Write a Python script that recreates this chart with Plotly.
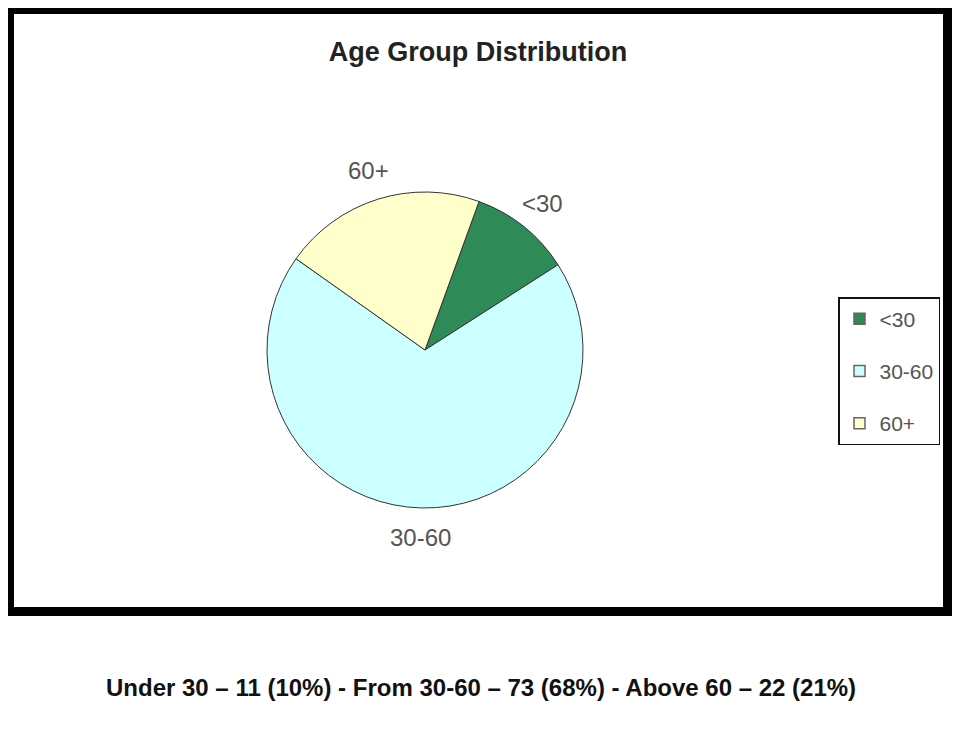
import math
import plotly.graph_objects as go

# The page body has an 8px margin, so the figure is shifted by 8px; compensate.
OFF = 8
W, H = 960 - OFF, 740 - OFF

labels = ["<30", "30-60", "60+"]
counts = [11, 73, 22]
colors = ["#2E8B57", "#CCFFFF", "#FFFFCC"]
title_text = "Age Group Distribution"
caption = "Under 30 – 11 (10%) - From 30-60 – 73 (68%) - Above 60 – 22 (21%)"

ROTATION = 20

def px(x):
    return (x - OFF) / W

def py(y):
    return 1 - (y - OFF) / H

fig = go.Figure()

cx, cy, r = 425, 350, 158
fig.add_trace(go.Pie(
    labels=labels,
    values=counts,
    sort=False,
    direction="clockwise",
    rotation=ROTATION,
    marker=dict(colors=colors, line=dict(color="#333333", width=1)),
    textinfo="none",
    domain=dict(x=[px(cx - r), px(cx + r)], y=[py(cy + r), py(cy - r)]),
    showlegend=False,
    hoverinfo="label+value+percent",
))

# slice labels placed along each slice's mid-angle, computed from the data
total = sum(counts)
annotations = []
start = ROTATION
label_r = 188
for lab, v in zip(labels, counts):
    span = 360 * v / total
    mid = math.radians(start + span / 2)
    start += span
    annotations.append(dict(
        text=lab,
        x=px(cx + label_r * math.sin(mid)), y=py(cy - label_r * math.cos(mid)),
        xref="paper", yref="paper", xanchor="center", yanchor="middle",
        showarrow=False,
        font=dict(family="Liberation Sans, Arial, sans-serif", size=24, color="#555555"),
    ))

annotations.append(dict(
    text=f"<b>{caption}</b>",
    x=px(481), y=py(687), xref="paper", yref="paper",
    xanchor="center", yanchor="middle", showarrow=False,
    font=dict(family="Liberation Sans, Arial, sans-serif", size=24, color="#111111"),
))

# legend entries
for i, (lab, col) in enumerate(zip(labels, colors)):
    fig.add_trace(go.Scatter(
        x=[None], y=[None], mode="markers", name=lab,
        legendgroup=f"g{i}",
        marker=dict(symbol="square", size=11, color=col, line=dict(color="#666666", width=1.5)),
        showlegend=True,
    ))

fig.update_layout(
    width=W, height=H,
    margin=dict(l=0, r=0, t=0, b=0),
    paper_bgcolor="white",
    plot_bgcolor="white",
    xaxis=dict(visible=False),
    yaxis=dict(visible=False),
    title=dict(
        text=f"<b>{title_text}</b>",
        x=px(478), xanchor="center",
        y=py(52), yanchor="middle",
        font=dict(family="Liberation Sans, Arial, sans-serif", size=27, color="#222222"),
    ),
    legend=dict(
        x=px(838), xanchor="left",
        y=py(297), yanchor="top",
        bordercolor="#111111", borderwidth=1.5,
        bgcolor="white",
        font=dict(family="Liberation Sans, Arial, sans-serif", size=21, color="#555555"),
        tracegroupgap=22,
        itemwidth=30,
    ),
    shapes=[dict(
        type="rect", xref="paper", yref="paper",
        x0=px(9.5), x1=px(947.5), y0=py(611.5), y1=py(9.5),
        line=dict(color="black", width=9),
        fillcolor="rgba(0,0,0,0)",
        layer="below",
    )],
    annotations=annotations,
)

fig.write_html("out.html")
